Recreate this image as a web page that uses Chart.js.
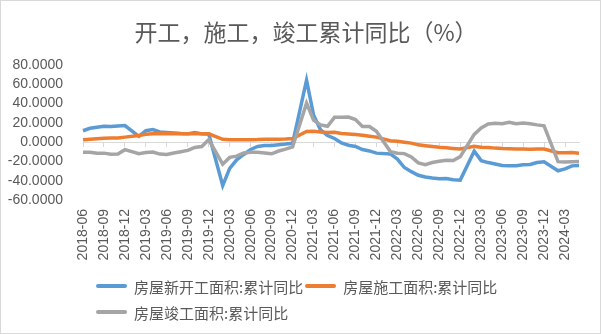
<!DOCTYPE html>
<html>
<head>
<meta charset="utf-8">
<script src="https://cdn.jsdelivr.net/npm/chart.js@4"></script>
<style>
  html, body { margin: 0; padding: 0; background: #fff; }
  #wrap { position: relative; width: 601px; height: 334px; }
  #frame { position: absolute; left: 0; top: 0; width: 599px; height: 332px; border: 1px solid #d9d9d9; pointer-events: none; }
  #title { position: absolute; left: 12px; width: 588px; top: 14px; line-height: 30px; text-align: center;
    font: 23px "Noto Sans CJK SC", sans-serif; color: #595959; white-space: nowrap; }
  #legend { position: absolute; left: 96px; top: 273px; width: 410px; display: flex; flex-wrap: wrap;
    font: 15px "Noto Sans CJK SC", sans-serif; color: #595959; }
  #legend .item { display: flex; align-items: center; height: 26px; margin-right: 2px; }
  #legend .line { width: 31px; height: 4px; border-radius: 2px; margin-right: 7px; }
</style>
</head>
<body>
<div id="wrap">
  <canvas id="chart" width="601" height="334"></canvas>
  <div id="title"></div>
  <div id="legend"></div>
  <div id="frame"></div>
</div>
<script>
// months 2018-06 .. 2024-05; January has no cumulative figure (null)
const months = [];
for (let y = 2018; y <= 2024; y++) {
  for (let m = 1; m <= 12; m++) {
    if (y === 2018 && m < 6) continue;
    if (y === 2024 && m > 5) break;
    months.push(`${y}-${String(m).padStart(2, "0")}`);
  }
}

const newStarts = [
  11.8, 14.4, 15.5, 16.4, 16.3, 16.8, 17.2,
  null, 6.0, 11.9, 13.1, 10.5, 10.1, 9.5, 8.9, 8.6, 10.0, 8.6, 8.5,
  null, -44.9, -27.2, -18.4, -12.8, -7.6, -4.5, -3.6, -3.4, -2.6, -2.0, -1.2,
  null, 64.3, 28.2, 12.8, 6.9, 3.8, -0.9, -3.2, -4.5, -7.7, -9.1, -11.4,
  null, -12.2, -17.5, -26.3, -30.6, -34.4, -36.1, -37.2, -38.0, -37.8, -38.9, -39.4,
  null, -9.4, -19.2, -21.2, -22.6, -24.3, -24.5, -24.4, -23.4, -23.2, -21.2, -20.4,
  null, -29.7, -27.8, -24.6, -24.2,
];
const underConstruction = [
  2.5, 3.1, 3.6, 4.0, 4.2, 4.4, 5.2,
  null, 6.8, 8.2, 8.8, 8.8, 8.8, 9.0, 8.8, 8.7, 9.0, 8.7, 8.7,
  null, 2.9, 2.6, 2.5, 2.6, 2.6, 2.7, 3.0, 3.1, 3.0, 3.2, 3.7,
  null, 11.0, 11.2, 10.5, 10.1, 10.2, 9.0, 8.4, 7.9, 7.1, 6.1, 5.2,
  null, 1.4, 1.0, 0.0, -1.0, -2.8, -3.7, -4.5, -5.3, -5.7, -6.5, -7.2,
  null, -4.4, -5.2, -5.6, -6.2, -6.6, -6.8, -7.1, -7.1, -7.3, -7.2, -7.2,
  null, -11.0, -11.1, -10.8, -11.6,
];
const completed = [
  -10.6, -10.5, -11.6, -11.4, -12.5, -12.3, -7.8,
  null, -11.9, -10.8, -10.3, -12.4, -12.7, -11.3, -10.0, -8.6, -5.5, -4.5, 2.6,
  null, -22.9, -15.8, -14.5, -11.3, -10.5, -10.6, -11.2, -12.1, -9.2, -7.3, -4.9,
  null, 40.4, 22.9, 17.9, 16.4, 25.7, 25.7, 26.0, 23.4, 16.3, 16.2, 11.2,
  null, -9.8, -11.5, -11.9, -15.3, -21.5, -23.3, -21.1, -19.9, -18.7, -19.0, -15.0,
  null, 8.0, 14.7, 18.8, 19.6, 19.0, 20.5, 19.2, 19.8, 19.0, 17.9, 17.0,
  null, -20.2, -20.7, -20.4, -20.1,
];

const seriesNames = ["房屋新开工面积:累计同比", "房屋施工面积:累计同比", "房屋竣工面积:累计同比"];
const colors = ["#5b9bd5", "#ed7d31", "#a5a5a5"];
const title = "开工，施工，竣工累计同比（%）";

const isQuarter = (i) => Number(months[i].slice(5)) % 3 === 0;
const txt = "#595959";
const latin = "'Liberation Sans', Arial, sans-serif";

const datasets = [newStarts, underConstruction, completed].map((data, i) => ({
  label: seriesNames[i],
  data,
  borderColor: colors[i],
  backgroundColor: colors[i],
  borderWidth: 3.5,
  pointRadius: 0,
  spanGaps: true,
  tension: 0,
  order: 2 - i,
  xAxisID: "x",
}));

new Chart(document.getElementById("chart"), {
  type: "line",
  data: { labels: months, datasets },
  options: {
    responsive: false,
    animation: false,
    layout: { padding: { left: 0, right: 22, top: 65, bottom: 69 } },
    plugins: {
      legend: { display: false },
      tooltip: { enabled: false },
    },
    scales: {
      x: {
        grid: { display: false },
        border: { display: false },
        ticks: {
          autoSkip: false,
          minRotation: 90,
          maxRotation: 90,
          padding: 1,
          color: txt,
          font: { family: latin, size: 14 },
          callback(v, i) { return isQuarter(i) ? this.getLabelForValue(v) : ""; },
        },
        afterFit(s) { s.height = 65; },
      },
      zero: {
        type: "category",
        axis: "x",
        position: { y: 0 },
        labels: months,
        grid: {
          drawOnChartArea: false,
          drawTicks: true,
          tickLength: 4,
          tickColor: (c) => (isQuarter(c.index) ? "#d9d9d9" : "rgba(0,0,0,0)"),
        },
        border: { display: true, color: "#d9d9d9", width: 1 },
        ticks: { display: false, autoSkip: false },
      },
      y: {
        min: -60,
        max: 80,
        grid: { display: false },
        border: { display: false },
        ticks: {
          stepSize: 20,
          autoSkip: false,
          padding: 12,
          color: txt,
          font: { family: latin, size: 14 },
          callback: (v) => v.toFixed(4),
        },
        afterFit(s) { s.width = 83; },
      },
    },
  },
});

document.getElementById("title").textContent = title;

// legend below the plot, laid out like the source
const legendEl = document.getElementById("legend");
seriesNames.forEach((name, i) => {
  const item = document.createElement("div");
  item.className = "item";
  item.innerHTML = `<span class="line" style="background:${colors[i]}"></span><span>${name}</span>`;
  legendEl.appendChild(item);
});
</script>
</body>
</html>
